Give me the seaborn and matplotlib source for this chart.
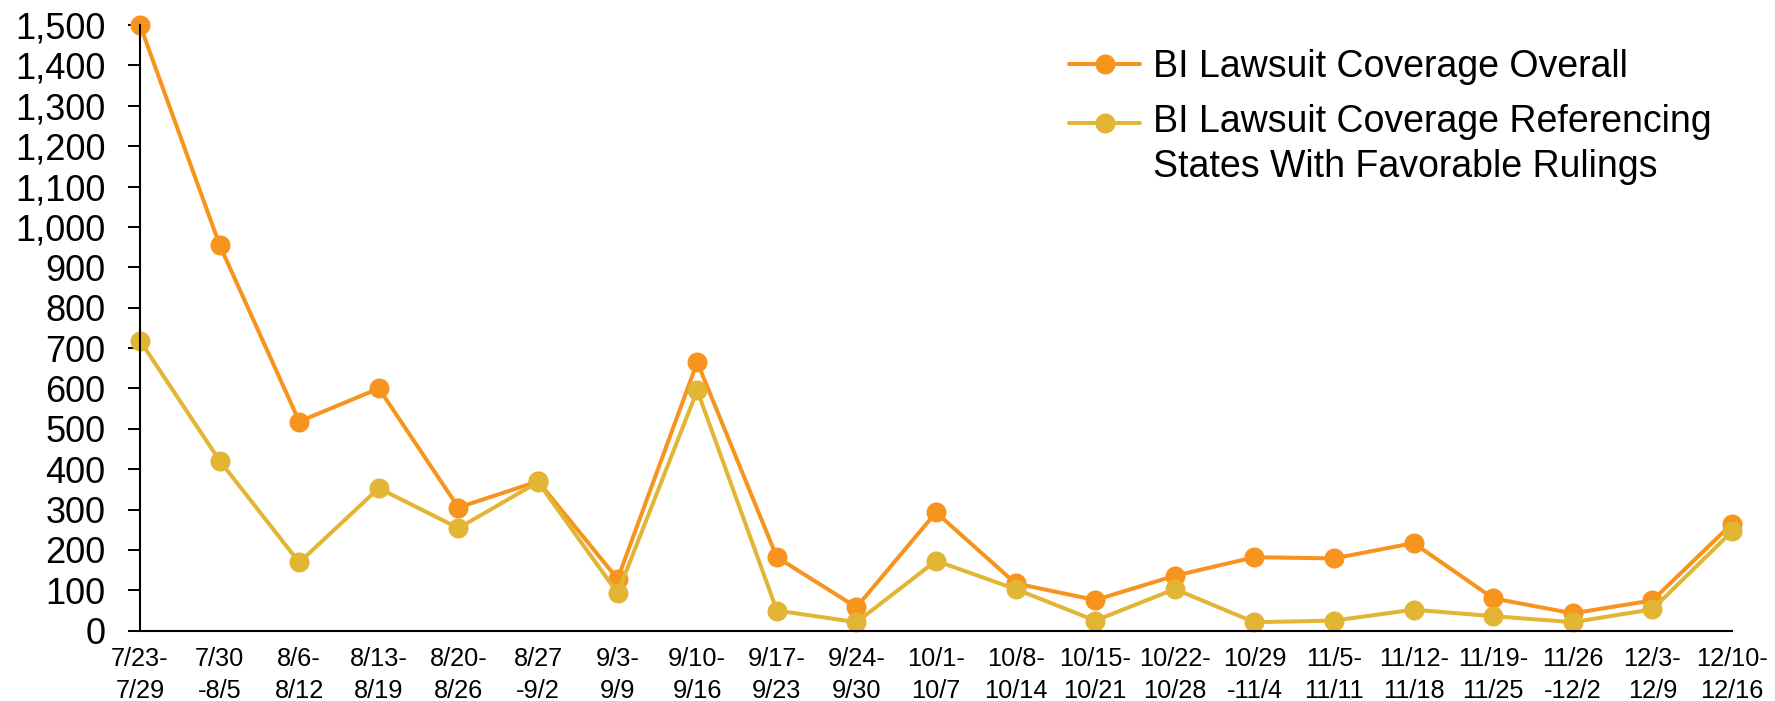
import matplotlib
matplotlib.use("Agg")
import matplotlib.pyplot as plt
import seaborn as sns
import pandas as pd

weeks = [
    "7/23-\n7/29", "7/30\n-8/5", "8/6-\n8/12", "8/13-\n8/19", "8/20-\n8/26",
    "8/27\n-9/2", "9/3-\n9/9", "9/10-\n9/16", "9/17-\n9/23", "9/24-\n9/30",
    "10/1-\n10/7", "10/8-\n10/14", "10/15-\n10/21", "10/22-\n10/28", "10/29\n-11/4",
    "11/5-\n11/11", "11/12-\n11/18", "11/19-\n11/25", "11/26\n-12/2", "12/3-\n12/9",
    "12/10-\n12/16",
]
overall = [1500, 955, 518, 600, 305, 370, 128, 665, 182, 58, 293, 117, 76, 136,
           182, 179, 217, 80, 43, 75, 265]
favorable = [718, 421, 169, 353, 254, 368, 93, 595, 50, 21, 173, 103, 25, 103,
             21, 25, 52, 36, 21, 53, 246]
y_ticks = list(range(0, 1501, 100))

label_overall = "BI Lawsuit Coverage Overall"
label_fav = "BI Lawsuit Coverage Referencing\nStates With Favorable Rulings"
color_overall = "#F7941E"
color_fav = "#E2B534"

sns.set_style("white")
plt.rcParams["font.family"] = ["Liberation Sans", "DejaVu Sans"]
plt.rcParams["text.color"] = "black"
plt.rcParams["xtick.color"] = "black"
plt.rcParams["ytick.color"] = "black"

df = pd.DataFrame({"idx": range(len(weeks)), "overall": overall, "favorable": favorable})

fig = plt.figure(figsize=(17.75, 7.01), dpi=100)
ax = fig.add_axes([0.0789, 0.1003, 0.8969, 0.8640])

common = dict(marker="o", markersize=14.4, markeredgewidth=0, linewidth=2.9, clip_on=False)
sns.lineplot(data=df, x="idx", y="overall", color=color_overall, label=label_overall, ax=ax, **common)
sns.lineplot(data=df, x="idx", y="favorable", color=color_fav, label=label_fav, ax=ax, **common)

ax.set_xlim(0, len(weeks) - 1)
ax.set_ylim(0, 1500)
ax.set_xticks(range(len(weeks)))
ax.set_xticklabels(weeks, fontsize=18.3, linespacing=1.38)
ax.set_yticks(y_ticks)
ax.set_yticklabels([f"{v:,}" for v in y_ticks], fontsize=26)
ax.set_xlabel("")
ax.set_ylabel("")

for side in ("top", "right"):
    ax.spines[side].set_visible(False)
for side in ("left", "bottom"):
    ax.spines[side].set_color("black")
    ax.spines[side].set_linewidth(1.5)

ax.tick_params(axis="y", direction="out", length=8.4, width=1.4, color="black", pad=16.5, left=True)
ax.tick_params(axis="x", length=0, pad=12)

leg = ax.legend(loc="upper left", bbox_to_anchor=(1069 / 1775, 0.930), bbox_transform=fig.transFigure,
                frameon=False, fontsize=27, handlelength=1.9, handletextpad=0.35,
                labelspacing=0.5, borderaxespad=0, borderpad=0)
for t in leg.get_texts():
    t.set_linespacing(1.33)

# keep the second handle level with the first line of its two-line label
h2 = leg.legend_handles[1]
h2.set_ydata([y + 15.8 for y in h2.get_ydata()])

fig.savefig("out.png", dpi=100)
